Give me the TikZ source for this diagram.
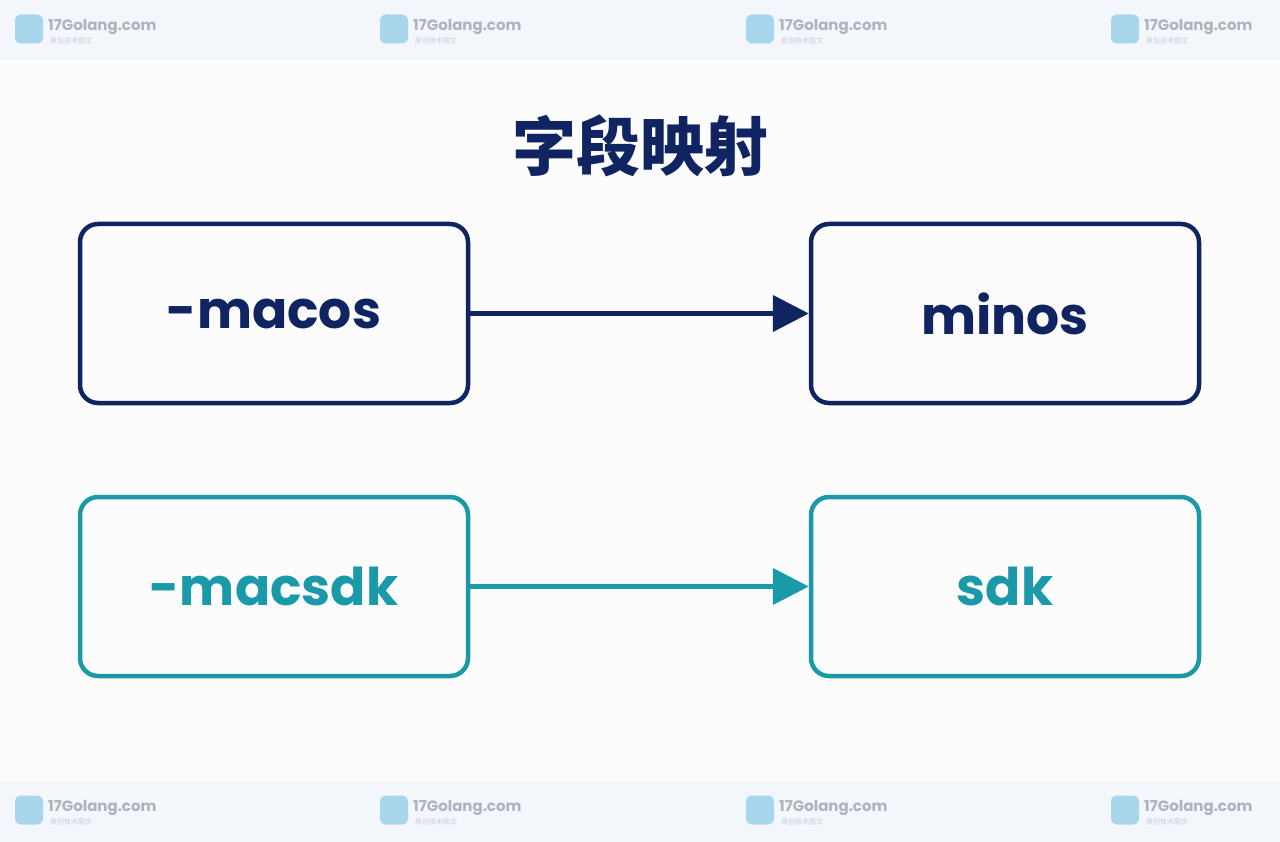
\documentclass[tikz,border=0pt]{standalone}
\usepackage{fontspec}
\setmainfont{Poppins}
\newfontfamily\cjk{Noto Sans CJK SC}
\usetikzlibrary{arrows.meta}
\definecolor{navy}{HTML}{0F2460}
\definecolor{teal}{HTML}{1A9AA8}
\definecolor{strip}{HTML}{F3F6FA}
\definecolor{wmtext}{HTML}{AEB4BE}
\definecolor{wmsub}{HTML}{C5CCDA}
\definecolor{wmicon}{HTML}{A8D6EC}
\definecolor{bg}{HTML}{FCFCFD}
\tikzset{
  box/.style={draw=#1, line width=4.5pt, rounded corners=18pt, minimum width=388pt, minimum height=179pt, inner sep=0pt, text=#1, font=\fontsize{52}{54}\selectfont\bfseries},
  link/.style={draw=#1, line width=4.5pt, -{Triangle[length=36pt,width=36pt]}},
  wmlogo/.style={fill=wmicon, rounded corners=6pt, minimum width=28pt, minimum height=29pt, inner sep=0pt},
  wmname/.style={text=wmtext, font=\fontsize{15}{16}\selectfont\bfseries, anchor=west, inner sep=0pt},
  wmline/.style={text=wmsub, font=\cjk\fontsize{7}{8}\selectfont, anchor=west, inner sep=0pt}
}
\begin{document}
\begin{tikzpicture}[x=1pt,y=-1pt]
\fill[bg] (0,0) rectangle (1280,842);
\useasboundingbox (0,0) rectangle (1280,842);
\fill[strip] (0,0) rectangle (1280,60);
\fill[strip] (0,781) rectangle (1280,842);
\foreach \x/\i in {0/a,365/b,731/c,1096/d}{
  \node[wmlogo] (lt\i) at (\x+29,29) {};
  \node[wmname] (nt\i) at (\x+48,27) {17Golang.com};
  \node[wmline] (st\i) at (\x+50,41) {原创技术图文};
  \node[wmlogo] (lb\i) at (\x+29,810) {};
  \node[wmname] (nb\i) at (\x+48,808) {17Golang.com};
  \node[wmline] (sb\i) at (\x+50,822) {原创技术图文};
}
\node[text=navy, font=\cjk\fontsize{64}{66}\selectfont\bfseries] (title) at (640,146) {字段映射};
\node[box=navy] (macos) at (274,313.5) {-macos};
\node[box=navy] (minos) at (1005,313.5) {minos};
\node[box=teal] (macsdk) at (274,586.5) {-macsdk};
\node[box=teal] (sdk) at (1005,586.5) {sdk};
\draw[link=navy] (macos) -- (minos);
\draw[link=teal] (macsdk) -- (sdk);
\end{tikzpicture}
\end{document}
